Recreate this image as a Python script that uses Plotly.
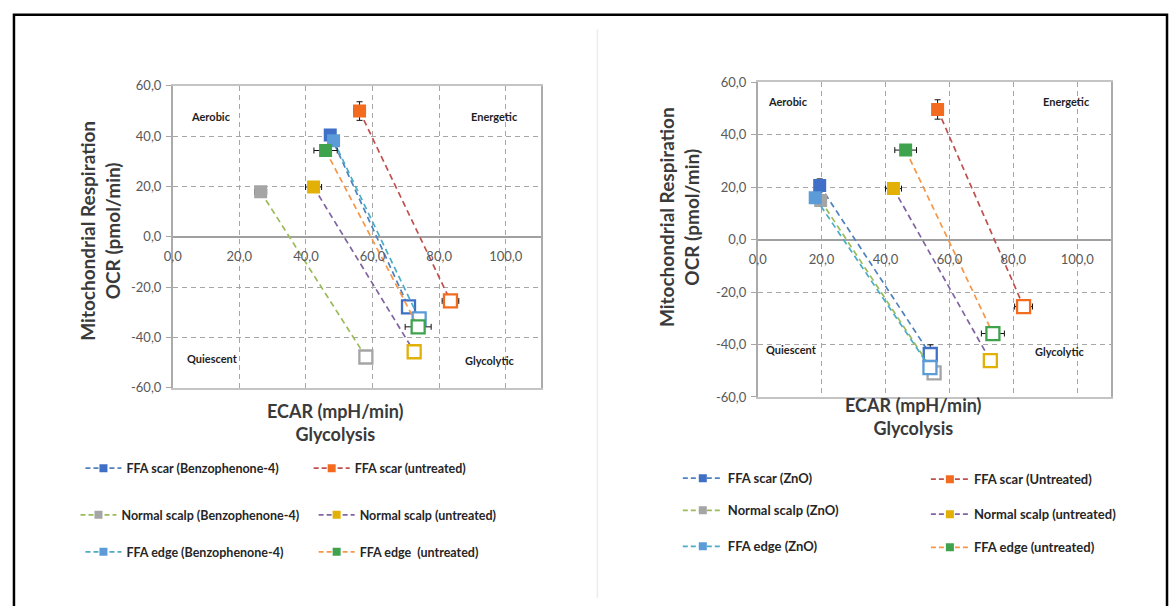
import plotly.graph_objects as go

W, H = 1170, 606

# ---------------- tick labels ----------------
x_tick_vals = [0, 20, 40, 60, 80, 100]
x_tick_text = ["0,0", "20,0", "40,0", "60,0", "80,0", "100,0"]
y_tick_vals = [60, 40, 20, 0, -20, -40, -60]
y_tick_text = ["60,0", "40,0", "20,0", "0,0", "-20,0", "-40,0", "-60,0"]

quadrant_labels = ["Aerobic", "Energetic", "Quiescent", "Glycolytic"]

# ---------------- left panel: Benzophenone-4 ----------------
bp4_names = ["FFA scar (Benzophenone-4)", "FFA scar (untreated)",
             "Normal scalp (Benzophenone-4)", "Normal scalp (untreated)",
             "FFA edge (Benzophenone-4)", "FFA edge\u00a0 (untreated)"]
bp4_ecar_basal = [47.3, 56.1, 26.4, 42.3, 48.3, 45.9]
bp4_ocr_basal = [40.5, 50.0, 17.9, 19.8, 38.2, 34.3]
bp4_ecar_stress = [70.8, 83.4, 58.0, 72.5, 74.0, 73.7]
bp4_ocr_stress = [-27.9, -25.5, -47.8, -45.7, -32.6, -35.8]
bp4_ecar_err_basal = [0, 1.8, 1.8, 2.4, 0, 3.5]
bp4_ocr_err_basal = [0, 3.7, 0, 0, 0, 0]
bp4_ecar_err_stress = [0, 2.5, 0, 0, 0, 3.9]
bp4_ocr_err_stress = [0, 0, 0, 0, 0, 0]

# ---------------- right panel: ZnO ----------------
zno_names = ["FFA scar (ZnO)", "FFA scar (Untreated)",
             "Normal scalp (ZnO)", "Normal scalp (untreated)",
             "FFA edge (ZnO)", "FFA edge (untreated)"]
zno_ecar_basal = [19.4, 56.3, 19.7, 42.5, 18.0, 46.3]
zno_ocr_basal = [20.7, 49.7, 15.0, 19.5, 16.0, 34.2]
zno_ecar_stress = [54.0, 83.2, 55.2, 72.8, 53.9, 73.6]
zno_ocr_stress = [-43.8, -25.5, -50.8, -46.1, -48.8, -35.8]
zno_ecar_err_basal = [0, 1.5, 0, 2.5, 0, 3.4]
zno_ocr_err_basal = [2.5, 3.7, 0, 0, 0, 0]
zno_ecar_err_stress = [0, 2.8, 0, 0, 0, 3.6]
zno_ocr_err_stress = [3.7, 0, 0, 0, 0, 0]

# ---------------- styles ----------------
marker_colors = ["#3F6FC6", "#F26B1F", "#A5A5A5", "#E2B007", "#5A9BD8", "#3FA34D"]
line_colors = ["#4F81BD", "#C0504D", "#9BBB59", "#8064A2", "#4BACC6", "#F79646"]
FONT = "Lato, 'Open Sans', sans-serif"


def px(x):
    return x / W


def py(y):
    return 1 - y / H


fig = go.Figure()

# legend placement: (text start x, row y, item width)
panels = [
    dict(names=bp4_names, ex0=bp4_ecar_basal, oy0=bp4_ocr_basal, ex1=bp4_ecar_stress, oy1=bp4_ocr_stress,
         eex0=bp4_ecar_err_basal, eoy0=bp4_ocr_err_basal, eex1=bp4_ecar_err_stress, eoy1=bp4_ocr_err_stress,
         xa="x", ya="y", xl="x3", lfs=12.5,
         leg_pos=[(125, 473, 36), (355, 473, 36), (120, 521, 36), (360, 521, 36), (125, 559, 36), (360, 559, 36)],
         leg_start=1),
    dict(names=zno_names, ex0=zno_ecar_basal, oy0=zno_ocr_basal, ex1=zno_ecar_stress, oy1=zno_ocr_stress,
         eex0=zno_ecar_err_basal, eoy0=zno_ocr_err_basal, eex1=zno_ecar_err_stress, eoy1=zno_ocr_err_stress,
         xa="x2", ya="y2", xl="x4", lfs=13,
         leg_pos=[(731, 483, 40), (979, 484, 38), (731, 516, 40), (979, 520, 38), (731, 553, 40), (979, 554, 38)],
         leg_start=7),
]

legends = {}
for p in panels:
    for i, name in enumerate(p["names"]):
        fig.add_trace(go.Scatter(
            x=[p["ex0"][i], p["ex1"][i]], y=[p["oy0"][i], p["oy1"][i]],
            mode="lines+markers", xaxis=p["xa"], yaxis=p["ya"],
            line=dict(color=line_colors[i], width=1.7, dash="6px,4px"),
            marker=dict(symbol="square", size=13, color=[marker_colors[i], "white"],
                        line=dict(color=marker_colors[i], width=[0, 2.3])),
            error_x=dict(type="data", array=[p["eex0"][i], p["eex1"][i]], color="#111111", thickness=1, width=3),
            error_y=dict(type="data", array=[p["eoy0"][i], p["eoy1"][i]], color="#111111", thickness=1, width=3),
            showlegend=False, hoverinfo="skip"))
        lid = p["leg_start"] + i
        lname = "legend" if lid == 1 else f"legend{lid}"
        fig.add_trace(go.Scatter(
            x=[None], y=[None], mode="lines+markers", xaxis=p["xl"], yaxis=p["ya"], name=name,
            line=dict(color=line_colors[i], width=1.7, dash="5px,3px"),
            marker=dict(symbol="square", size=8, color=marker_colors[i]),
            legend=lname, showlegend=True))
        tx, cy, iw = p["leg_pos"][i]
        legends[lname] = dict(x=px(tx - 17 - iw), y=py(cy), xanchor="left", yanchor="middle",
                              bgcolor="rgba(0,0,0,0)", borderwidth=0, itemwidth=iw,
                              font=dict(family=FONT, size=p["lfs"], color="#262626", weight="bold"))

# ---------------- axes ----------------
GRID = "#A6A6A6"
tickfont = dict(family=FONT, size=13, color="#595959")


def base_x(dom, anchor):
    return dict(domain=dom, range=[0, 110.7], anchor=anchor, showline=True, mirror=True,
                linecolor="#C4C4C4", linewidth=1.5, showgrid=True, gridcolor=GRID, gridwidth=1,
                griddash="5px,4px", tickvals=x_tick_vals, showticklabels=False, ticks="", zeroline=False)


def base_y(dom, anchor):
    return dict(domain=dom, range=[-60, 60], anchor=anchor, showline=True, mirror=True,
                linecolor="#ABABAB", linewidth=1.5, showgrid=True, gridcolor=GRID, gridwidth=1,
                griddash="5px,4px", tickvals=y_tick_vals, ticktext=y_tick_text, ticks="outside",
                ticklen=5, tickcolor="#A6A6A6", tickfont=tickfont, zeroline=True,
                zerolinecolor="#A0A0A0", zerolinewidth=1.5, ticklabelstandoff=2)


def label_x(over, pos):
    return dict(overlaying=over, anchor="free", position=pos, range=[0, 110.7], tickvals=x_tick_vals,
                ticktext=x_tick_text, showgrid=False, showline=False, zeroline=False, ticks="",
                tickfont=tickfont, ticklabelstandoff=10)


ldx = [px(165), px(536.5)]
ldy = [py(390), py(80)]
rdx = [px(754.5), px(1111)]
rdy = [py(399.5), py(76.5)]

layout = dict(
    width=W, height=H, margin=dict(l=0, r=0, t=0, b=0),
    paper_bgcolor="white", plot_bgcolor="white",
    xaxis=base_x(ldx, "y"), yaxis=base_y(ldy, "x"),
    xaxis2=base_x(rdx, "y2"), yaxis2=base_y(rdy, "x2"),
    xaxis3=label_x("x", (ldy[0] + ldy[1]) / 2),
    xaxis4=label_x("x2", (rdy[0] + rdy[1]) / 2),
)
layout.update(legends)
fig.update_layout(**layout)

# ---------------- annotations ----------------
qfont = dict(family=FONT, size=11, color="#1E1E1E", weight="bold")
quad_pos_left = [(11.4, 48.0), (96.6, 48.0), (12.0, -48.4), (95.0, -49.0)]
quad_pos_right = [(9.6, 52.7), (96.5, 52.9), (10.5, -41.9), (94.5, -42.5)]
for (qx, qy), t in zip(quad_pos_left, quadrant_labels):
    fig.add_annotation(x=qx, y=qy, xref="x", yref="y", text=t, showarrow=False, font=qfont)
for (qx, qy), t in zip(quad_pos_right, quadrant_labels):
    fig.add_annotation(x=qx, y=qy, xref="x2", yref="y2", text=t, showarrow=False, font=qfont)

tfont = dict(family=FONT, size=19, color="#3A3A3A", weight="bold")
xtfont = dict(family=FONT, size=18, color="#3A3A3A", weight="bold")
ytitle = "Mitochondrial Respiration<br>OCR (pmol/min)"
xtitle = "ECAR (mpH/min)<br>Glycolysis"
fig.add_annotation(x=px(91.5), y=py(229), xref="paper", yref="paper", text=ytitle, textangle=-90,
                   showarrow=False, font=tfont, xanchor="center", yanchor="middle")
fig.add_annotation(x=px(676), y=py(215), xref="paper", yref="paper", text=ytitle, textangle=-90,
                   showarrow=False, font=tfont, xanchor="center", yanchor="middle")
fig.add_annotation(x=px(329), y=py(426), xref="paper", yref="paper", text=xtitle,
                   showarrow=False, font=xtfont, xanchor="center", yanchor="middle")
fig.add_annotation(x=px(912), y=py(419.5), xref="paper", yref="paper", text=xtitle,
                   showarrow=False, font=xtfont, xanchor="center", yanchor="middle")

# ---------------- frames ----------------
fig.add_shape(type="rect", xref="paper", yref="paper", x0=px(5), y0=py(7), x1=px(1167), y1=-0.05,
              line=dict(color="black", width=2.5), fillcolor="rgba(0,0,0,0)", layer="below")
fig.add_shape(type="line", xref="paper", yref="paper", x0=px(593), y0=py(22), x1=px(593), y1=0,
              line=dict(color="#ECECEC", width=1.5), layer="below")

fig.write_html("out.html")
